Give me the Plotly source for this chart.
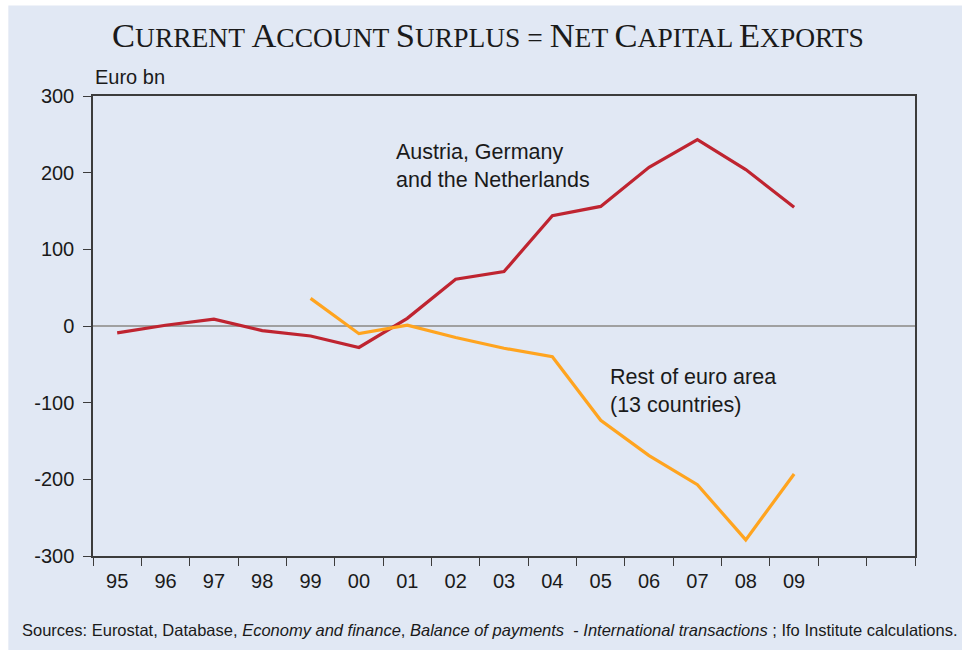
import plotly.graph_objects as go

years = ["95", "96", "97", "98", "99", "00", "01", "02", "03", "04", "05", "06", "07", "08", "09"]
core_countries = [-9, 1, 9, -6, -13, -28, 10, 61, 71, 144, 156, 207, 243, 204, 155]
rest_of_euro = [None, None, None, None, 36, -10, 1, -15, -29, -40, -123, -169, -207, -279, -193]
y_ticks = [-300, -200, -100, 0, 100, 200, 300]

RED = "#BF2430"
ORANGE = "#FFA41F"
BG = "#E1E8F4"
AXIS = "#3C3C3C"
TXT = "#1A1A1A"

x = list(range(len(years)))

fig = go.Figure()
fig.add_trace(go.Scatter(x=x, y=core_countries, mode="lines",
                         line=dict(color=RED, width=3.2), hoverinfo="skip"))
fig.add_trace(go.Scatter(x=x, y=rest_of_euro, mode="lines",
                         line=dict(color=ORANGE, width=3.2), hoverinfo="skip"))


def small_caps(text, big=34.5, small=27.5):
    out = []
    for word in text.split(" "):
        if word and word[0].isalpha():
            out.append(f"<span style='font-size:{big}px'>{word[0]}</span>{word[1:].upper()}")
        else:
            out.append(word)
    return " ".join(out)


fig.add_annotation(
    text=small_caps("Current Account Surplus = Net Capital Exports"),
    xref="paper", yref="paper", x=0.48, y=1.0, yshift=61, xanchor="center", yanchor="middle",
    showarrow=False, font=dict(family="Liberation Serif", size=27.5, color=TXT),
)
fig.add_annotation(text="Euro bn", xref="paper", yref="paper", x=0.0, y=1.0, yshift=19,
                   xanchor="left", yanchor="middle", showarrow=False,
                   font=dict(family="Liberation Sans", size=20, color=TXT))
fig.add_annotation(text="Austria, Germany<br>and the Netherlands", x=5.72, y=209,
                   xanchor="left", yanchor="middle", align="left", showarrow=False,
                   font=dict(family="Liberation Sans", size=21.5, color=TXT))
fig.add_annotation(text="Rest of euro area<br>(13 countries)", x=10.15, y=-85,
                   xanchor="left", yanchor="middle", align="left", showarrow=False,
                   font=dict(family="Liberation Sans", size=21.5, color=TXT))
fig.add_annotation(
    text="Sources: Eurostat, Database, <i>Economy and finance</i>, <i>Balance of payments</i>  - "
         "<i>International transactions</i> ; Ifo Institute calculations.",
    xref="paper", yref="paper", x=1.0, y=0, yshift=-74, xanchor="right", yanchor="middle",
    xshift=45, showarrow=False, font=dict(family="Liberation Sans", size=16.5, color=TXT),
)

# light blue panel behind the white plot area
fig.add_shape(type="rect", xref="paper", yref="paper", x0=-0.103, x1=1.06, y0=-0.21, y1=1.197,
              fillcolor=BG, line_width=0, layer="below")

fig.update_xaxes(
    range=[-0.5, 16.5], tickmode="array", tickvals=x, ticktext=years, ticks="",
    showline=True, linecolor=AXIS, linewidth=1.5, mirror=True, showgrid=False, zeroline=False,
    tickfont=dict(family="Liberation Sans", size=20, color=TXT), ticklabelstandoff=6,
    minor=dict(tickmode="linear", tick0=-0.5, dtick=1, ticks="outside", ticklen=8,
               tickcolor=AXIS, tickwidth=1.3, showgrid=False),
)
fig.update_yaxes(
    range=[-300, 300], tickmode="array", tickvals=y_ticks, ticktext=[str(v) for v in y_ticks],
    ticks="outside", ticklen=8, tickcolor=AXIS, tickwidth=1.3,
    showline=True, linecolor=AXIS, linewidth=1.5, mirror=True, showgrid=False,
    zeroline=True, zerolinecolor="#A0A0A0", zerolinewidth=1.5,
    tickfont=dict(family="Liberation Sans", size=20, color=TXT), ticklabelstandoff=5,
)
fig.update_layout(
    width=962, height=650, showlegend=False,
    margin=dict(l=93, r=47, t=96, b=94),
    paper_bgcolor="white", plot_bgcolor="white",
)

fig.write_html("out.html", config={"displayModeBar": False},
               post_script="document.body.style.margin='0px';")
